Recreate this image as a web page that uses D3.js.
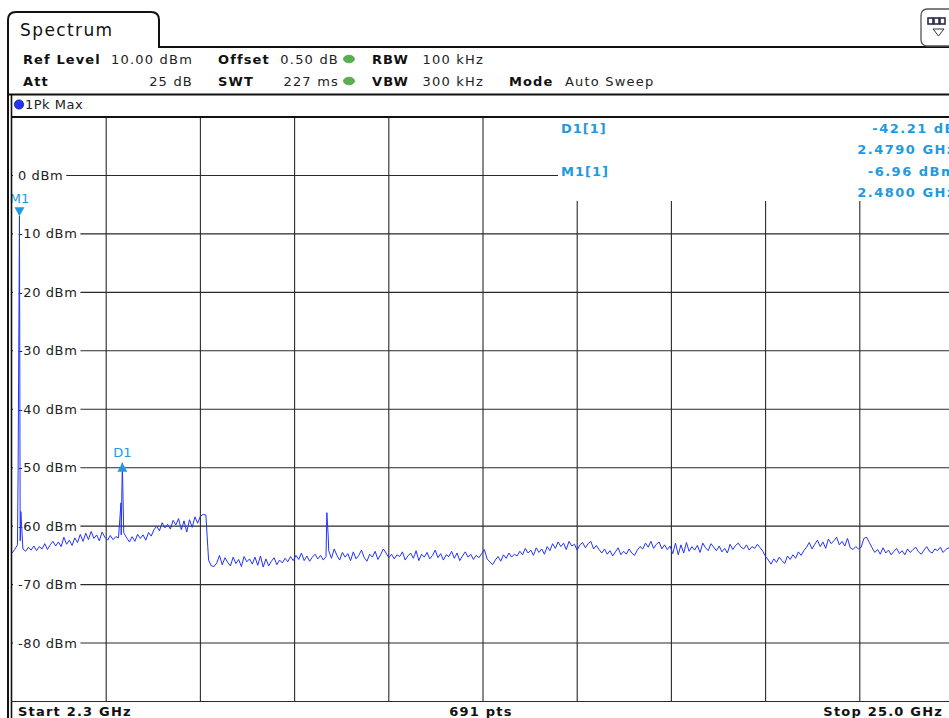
<!DOCTYPE html>
<html>
<head>
<meta charset="utf-8">
<script src="https://cdn.jsdelivr.net/npm/d3@7"></script>
<style>
  body { margin: 0; background: #fff; overflow: hidden; }
  svg { display: block; font-family: "DejaVu Sans", Verdana, sans-serif; }
</style>
</head>
<body>
<script>
'use strict';

// sweep settings shown in the header
const tabTitle = "Spectrum";
const settingRow1 = [["Ref Level", "10.00 dBm"], ["Offset", "0.50 dB"], ["RBW", "100 kHz"]];
const settingRow2 = [["Att", "25 dB"], ["SWT", "227 ms"], ["VBW", "300 kHz"], ["Mode", "Auto Sweep"]];
const traceName = "1Pk Max";

// axes
const startGHz = 2.3;
const stopGHz = 25.0;
const refLevel = 10;
const bottomLevel = -90;
const levelTicks = [0, -10, -20, -30, -40, -50, -60, -70, -80];
const levelLabels = ["0 dBm", "-10 dBm", "-20 dBm", "-30 dBm", "-40 dBm", "-50 dBm", "-60 dBm", "-70 dBm", "-80 dBm"];
const footerLabels = ["Start 2.3 GHz", "691 pts", "Stop 25.0 GHz"];

// max hold trace (every 2nd of the 691 points)
const traceLevels = [
  -64.6, -64.0, -63.2, -62.5, -63.9, -64.3, -63.6, -64.1, -63.4, -64.2, -63.5, -63.9, -63.0, -64.0, -63.2, -62.6,
  -63.4, -62.7, -63.5, -61.9, -63.1, -62.4, -63.3, -62.0, -62.8,
  -61.4, -62.6, -61.2, -62.3, -60.9, -62.1, -61.5, -62.5, -61.0, -61.9, -62.4,
  -61.6, -62.3, -61.8, -62.0, -61.5,
  -61.2, -62.0, -62.7, -61.8, -62.6, -61.4, -62.1, -61.5, -62.4, -61.1, -61.7,
  -60.6, -60.0, -60.8, -59.4, -60.3, -59.7, -60.5, -59.0, -59.8,
  -58.7, -60.6, -59.1, -61.0, -58.9, -60.2, -58.4, -59.5, -58.3, -58.0, -58.1,
  -65.8, -66.8, -66.9, -66.3, -65.0, -66.6, -65.4, -66.2, -66.8, -65.3, -66.4, -65.7, -66.9, -65.2, -66.1, -65.6,
  -66.5, -65.3, -66.7, -65.1, -67.0, -65.6, -66.8, -66.0, -65.4, -66.6, -65.8, -66.3, -65.5, -66.1, -65.2, -65.9, -65.0,
  -65.7, -64.6, -65.9, -65.1, -66.0, -65.3, -64.8, -65.6, -65.0, -65.8, -65.2,
  -64.2, -65.5, -63.9, -65.0, -65.8, -64.5, -65.3, -64.7, -65.9, -64.4, -65.6, -65.0, -64.1, -65.4, -66.0, -64.8,
  -65.3, -64.3, -65.7, -64.9, -63.9, -64.6, -65.4,
  -64.8, -65.6, -64.9, -65.2, -64.4, -65.8, -65.1, -64.6, -65.5, -64.2, -65.9, -64.8, -65.3, -64.5, -65.6, -65.0,
  -64.1, -65.4, -64.7, -65.8, -64.9, -65.2, -64.3, -65.5, -64.6, -65.9, -65.1, -64.4, -65.3, -64.8, -65.7, -65.0,
  -65.4, -64.7, -64.0,
  -65.6, -66.1, -66.6, -65.8, -65.2, -66.0, -64.9, -65.5, -64.6, -65.3, -64.8, -65.1, -64.3,
  -64.9, -63.8, -64.6, -64.1, -65.0, -63.7, -64.5, -63.9, -64.8, -63.5, -64.2,
  -63.0, -63.8, -62.7, -63.5, -62.9, -64.0, -62.6, -63.4, -63.1, -64.1, -63.2, -62.8, -63.7, -63.0, -62.6, -63.9,
  -63.3, -64.0,
  -64.6, -63.9, -64.8, -64.2, -65.1, -64.4, -63.7, -64.9, -64.3, -64.8, -63.9, -64.6, -65.0, -64.1, -63.5, -63.9,
  -62.9, -63.6, -62.6, -63.8, -63.1, -62.7, -63.9, -63.2, -64.0, -63.4,
  -64.7, -62.9, -64.9, -63.2, -64.6, -62.8, -64.3, -63.5, -64.1, -63.3, -64.5, -62.9, -63.7, -64.2, -63.0, -63.6,
  -64.2, -63.4, -64.4, -63.8, -64.6, -63.1, -64.0, -63.3, -62.9, -63.6, -63.9, -63.2, -64.1, -63.5, -63.8, -63.1,
  -63.7, -64.3,
  -65.2, -65.8, -66.5, -65.6, -66.2, -65.3, -65.9, -66.4, -65.1, -65.7, -64.9, -65.5, -64.4, -65.0, -64.2,
  -63.6, -62.8, -63.9, -63.1, -62.4, -63.5, -62.7, -63.8, -62.2, -63.0, -62.5, -61.9, -63.2, -62.6, -63.4, -62.1,
  -63.7, -64.0, -63.5, -63.9, -63.6,
  -62.1, -61.9, -62.8, -63.7, -64.5,
  -64.0, -64.8, -63.7, -64.6, -64.1, -64.9, -64.3, -63.8, -64.7, -64.2, -64.9, -63.9, -64.5, -64.0, -63.6, -64.4,
  -64.8, -64.1, -63.5, -64.3, -64.6, -63.9, -64.2, -63.6, -64.5, -64.0, -63.7, -64.4, -64.1
];

// narrow peaks that fall between the points above
const spikeFreqs = [2.447, 2.480, 2.513, 4.926, 4.959, 4.992, 9.887, 9.920];
const spikeLevels = [-51.0, -6.96, -57.5, -56.0, -49.17, -61.0, -57.7, -61.7];

// markers
const markerNames = ["M1", "D1"];
const markerFreqs = [2.480, 4.959];
const markerLevels = [-6.96, -49.17];
const markerInfoNames = ["D1[1]", "M1[1]"];
const markerInfoValues = ["-42.21 dB", "-6.96 dBm"];
const markerInfoFreqs = ["2.4790 GHz", "2.4800 GHz"];

const W = 949, H = 718;
const plot = { left: 12, top: 117, right: 954, bottom: 701.5 };
const traceBlue = "#2233ff";
const markerBlue = "#1e9ae0";

let svg = d3.select('body').append('svg')
  .attr('width', W)
  .attr('height', H);

let xScale = d3.scaleLinear().domain([startGHz, stopGHz]).range([plot.left, plot.right]);
let yScale = d3.scaleLinear().domain([refLevel, bottomLevel]).range([plot.top, plot.bottom]);

drawHeader();
drawGrid();
drawTrace();
drawMarkers();
drawFrame();

// tab, settings and trace name rows
function drawHeader() {
  // tab outline running into the header line
  svg.append('path')
    .attr('d', 'M8,718 L8,20 Q8,12 16,12 L151,12 Q159,12 159,20 L159,47 L949,47')
    .attr('fill', 'none')
    .attr('stroke', '#111')
    .attr('stroke-width', 2);

  svg.append('text')
    .attr('x', 20).attr('y', 36)
    .style('font-size', '17px')
    .style('letter-spacing', '1.4px')
    .attr('fill', '#111')
    .text(tabTitle);

  // little layout button at the right
  svg.append('rect')
    .attr('x', 921).attr('y', 9).attr('width', 40).attr('height', 37).attr('rx', 6)
    .attr('fill', '#fff').attr('stroke', '#555').attr('stroke-width', 1.3);
  [928, 934, 940].forEach((bx) => {
    svg.append('rect')
      .attr('x', bx).attr('y', 18).attr('width', 5).attr('height', 6)
      .attr('fill', '#fff').attr('stroke', '#2a2a50').attr('stroke-width', 1.6);
  });
  svg.append('path')
    .attr('d', 'M933,29 L944,29 L938.5,36 Z')
    .attr('fill', '#fff').attr('stroke', '#333').attr('stroke-width', 1);

  let labelX = [23, 218, 372, 509];
  let valueEnd = [193, 339, 484];
  let rows = [settingRow1, settingRow2];
  let baselines = [64, 86];

  rows.forEach((row, r) => {
    row.forEach((item, i) => {
      svg.append('text')
        .attr('x', labelX[i]).attr('y', baselines[r])
        .style('font-size', '13px')
        .style('font-weight', 'bold')
        .style('letter-spacing', '1.1px')
        .attr('fill', '#111')
        .text(item[0]);
      let isMode = i == 3;
      svg.append('text')
        .attr('x', isMode ? 565 : valueEnd[i]).attr('y', baselines[r])
        .attr('text-anchor', isMode ? 'start' : 'end')
        .style('font-size', '13px')
        .style('letter-spacing', '1.2px')
        .attr('fill', '#222')
        .text(item[1]);
    });
  });

  // green status dots
  [59, 81].forEach((cy) => {
    svg.append('ellipse')
      .attr('cx', 349).attr('cy', cy).attr('rx', 5.5).attr('ry', 3.8)
      .attr('fill', '#58b14e').attr('stroke', '#3f8a38').attr('stroke-width', 0.6);
  });

  svg.append('line')
    .attr('x1', 8).attr('x2', W).attr('y1', 94.5).attr('y2', 94.5)
    .attr('stroke', '#111').attr('stroke-width', 2);

  // trace name bar
  svg.append('circle')
    .attr('cx', 19).attr('cy', 104.5).attr('r', 4.6)
    .attr('fill', '#1f35ff').attr('stroke', '#0a1a8a').attr('stroke-width', 0.8);
  svg.append('text')
    .attr('x', 25).attr('y', 109)
    .style('font-size', '13px')
    .style('letter-spacing', '0.5px')
    .attr('fill', '#222')
    .text(traceName);
}

// grid lines, level labels and marker table
function drawGrid() {
  let boxLeft = 558, boxBottom = 201;
  let freqGrid = d3.range(1, 10).map((k) => startGHz + k * (stopGHz - startGHz) / 10);

  svg.selectAll('.vgrid')
    .data(freqGrid)
    .enter()
    .append('line')
      .attr('x1', (d) => xScale(d))
      .attr('x2', (d) => xScale(d))
      .attr('y1', (d) => xScale(d) > boxLeft ? boxBottom : plot.top)
      .attr('y2', plot.bottom)
      .attr('stroke', '#2a2a2a')
      .attr('stroke-width', 1.1);

  svg.selectAll('.hgrid')
    .data(levelTicks)
    .enter()
    .append('line')
      .attr('x1', plot.left)
      .attr('x2', (d) => yScale(d) < boxBottom ? boxLeft : plot.right)
      .attr('y1', (d) => yScale(d))
      .attr('y2', (d) => yScale(d))
      .attr('stroke', '#2a2a2a')
      .attr('stroke-width', 1.1);

  // level labels sit on the lines with a white patch behind them
  levelTicks.forEach((lv, i) => {
    let g = svg.append('g');
    let bg = g.append('rect').attr('fill', '#fff');
    let t = g.append('text')
      .attr('x', 18).attr('y', yScale(lv) + 4.5)
      .style('font-size', '13px')
      .style('letter-spacing', '0.6px')
      .attr('fill', '#222')
      .text(levelLabels[i]);
    let len = t.node().getComputedTextLength();
    bg.attr('x', plot.left + 1).attr('y', yScale(lv) - 8)
      .attr('width', 18 + len + 2 - plot.left).attr('height', 16);
  });

  // marker table, top right
  markerInfoNames.forEach((name, i) => {
    let y0 = 133 + i * 43;
    svg.append('text')
      .attr('x', 561).attr('y', y0)
      .style('font-size', '13px').style('font-weight', 'bold')
      .style('letter-spacing', '1px')
      .attr('fill', markerBlue)
      .text(name);
    svg.append('text')
      .attr('x', 956).attr('y', y0)
      .attr('text-anchor', 'end')
      .style('font-size', '13px').style('font-weight', 'bold')
      .style('letter-spacing', '1.5px')
      .attr('fill', markerBlue)
      .text(markerInfoValues[i]);
    svg.append('text')
      .attr('x', 956).attr('y', y0 + 21)
      .attr('text-anchor', 'end')
      .style('font-size', '13px').style('font-weight', 'bold')
      .style('letter-spacing', '1.5px')
      .attr('fill', markerBlue)
      .text(markerInfoFreqs[i]);
  });

  // footer
  let footY = 716;
  let footX = [18, 481, 943];
  let anchors = ['start', 'middle', 'end'];
  footerLabels.forEach((txt, i) => {
    svg.append('text')
      .attr('x', footX[i]).attr('y', footY)
      .attr('text-anchor', anchors[i])
      .style('font-size', '13px').style('font-weight', 'bold')
      .style('letter-spacing', '1.2px')
      .attr('fill', '#111')
      .text(txt);
  });
}

// trace line made of the regular points plus the narrow peaks
function drawTrace() {
  let step = (stopGHz - startGHz) / (traceLevels.length - 1);
  let pts = traceLevels.map((v, i) => ({ f: startGHz + i * step, v: v }));
  spikeFreqs.forEach((f, i) => pts.push({ f: f, v: spikeLevels[i] }));
  pts.sort((a, b) => a.f - b.f);

  svg.append('clipPath').attr('id', 'plotClip')
    .append('rect')
      .attr('x', plot.left).attr('y', plot.top)
      .attr('width', plot.right - plot.left).attr('height', plot.bottom - plot.top);

  let line = d3.line()
    .x((d) => xScale(d.f))
    .y((d) => yScale(d.v));

  svg.append('path')
    .datum(pts)
    .attr('clip-path', 'url(#plotClip)')
    .attr('d', line)
    .attr('fill', 'none')
    .attr('stroke', traceBlue)
    .attr('stroke-width', 1)
    .attr('stroke-linejoin', 'miter');
}

// marker triangles and names
function drawMarkers() {
  markerNames.forEach((name, i) => {
    let mx = xScale(markerFreqs[i]);
    let my = yScale(markerLevels[i]);
    let down = name == 'M1';
    let tri = down
      ? `M${mx - 5},${my - 9} L${mx + 5},${my - 9} L${mx},${my} Z`
      : `M${mx - 5},${my + 9} L${mx + 5},${my + 9} L${mx},${my} Z`;
    svg.append('path').attr('d', tri).attr('fill', markerBlue);
    svg.append('text')
      .attr('x', mx).attr('y', down ? my - 13 : my - 6)
      .attr('text-anchor', 'middle')
      .style('font-size', '13px')
      .attr('fill', markerBlue)
      .text(name);
  });
}

// plot frame on top
function drawFrame() {
  svg.append('rect')
    .attr('x', 0).attr('y', plot.top).attr('width', 7).attr('height', H - plot.top)
    .attr('fill', '#fff');
  svg.append('line')
    .attr('x1', 8).attr('x2', 8).attr('y1', 47).attr('y2', H)
    .attr('stroke', '#111').attr('stroke-width', 2);
  svg.append('line')
    .attr('x1', 11.5).attr('x2', 11.5).attr('y1', 95).attr('y2', H)
    .attr('stroke', '#111').attr('stroke-width', 1.6);
  svg.append('line')
    .attr('x1', 11).attr('x2', W).attr('y1', plot.top).attr('y2', plot.top)
    .attr('stroke', '#111').attr('stroke-width', 2);
  svg.append('line')
    .attr('x1', 11).attr('x2', W).attr('y1', plot.bottom).attr('y2', plot.bottom)
    .attr('stroke', '#2a2a2a').attr('stroke-width', 1.1);
}
</script>
</body>
</html>
